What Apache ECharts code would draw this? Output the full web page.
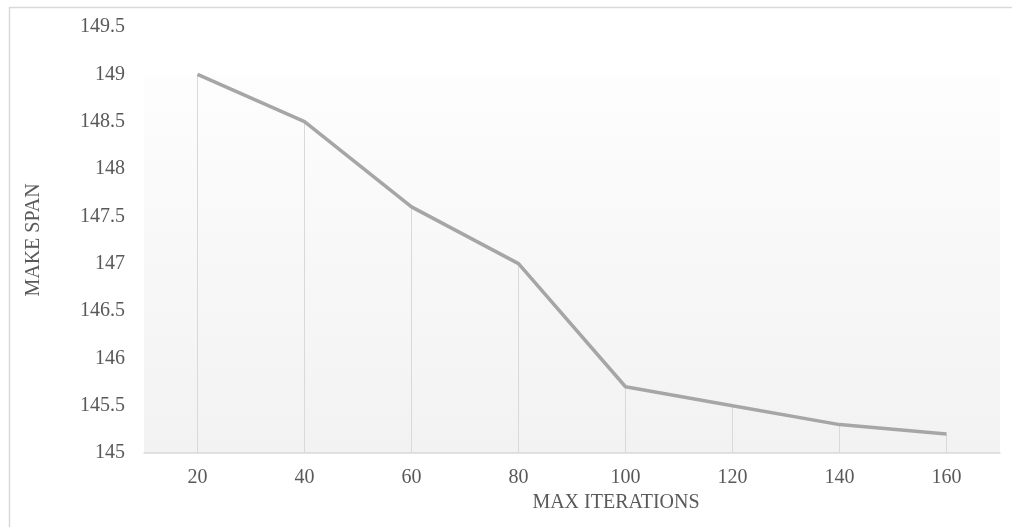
<!DOCTYPE html>
<html>
<head>
<meta charset="utf-8">
<script src="https://cdn.jsdelivr.net/npm/echarts@6/dist/echarts.min.js"></script>
<style>
html,body{margin:0;padding:0;background:#fff;}
#chart{width:1012px;height:527px;}
</style>
</head>
<body>
<div id="chart"></div>
<script>
const categories = ['20', '40', '60', '80', '100', '120', '140', '160'];
const makeSpan = [149.0, 148.5, 147.6, 147.0, 145.7, 145.5, 145.3, 145.2];
const yTicks = { min: 145, max: 149.5, step: 0.5 };
const xTitle = 'MAX ITERATIONS';
const yTitle = 'MAKE SPAN';

const font = 'Liberation Serif';
const labelColor = '#595959';

const chart = echarts.init(document.getElementById('chart'), null, { renderer: 'canvas' });
chart.setOption({
  animation: false,
  backgroundColor: '#ffffff',
  graphic: [{
    type: 'rect',
    left: 7, top: 5,
    shape: { width: 1020, height: 540 },
    style: { fill: 'none', stroke: '#d9d9d9', lineWidth: 1.5 },
    silent: true,
    z: -1
  }],
  grid: {
    left: 144, right: 12, top: 27, bottom: 74,
    show: true,
    borderWidth: 0,
    backgroundColor: new echarts.graphic.LinearGradient(0, 0, 0, 1, [
      { offset: 0, color: '#ffffff' },
      { offset: 0.11, color: '#ffffff' },
      { offset: 0.115, color: '#fdfdfd' },
      { offset: 1, color: '#f2f2f2' }
    ])
  },
  xAxis: {
    type: 'category',
    data: categories,
    boundaryGap: true,
    axisLine: { show: true, lineStyle: { color: '#d9d9d9', width: 1.5 } },
    axisTick: { show: false },
    splitLine: { show: false },
    axisLabel: { margin: 15, fontFamily: font, fontSize: 20, color: labelColor },
    name: xTitle,
    nameLocation: 'middle',
    nameGap: 36,
    nameTextStyle: { fontFamily: font, fontSize: 20, color: labelColor, padding: [0, 0, 0, 88] }
  },
  yAxis: {
    type: 'value',
    min: yTicks.min,
    max: yTicks.max,
    interval: yTicks.step,
    axisLine: { show: false },
    axisTick: { show: false },
    splitLine: { show: false },
    axisLabel: { margin: 19, fontFamily: font, fontSize: 20, color: labelColor },
    name: yTitle,
    nameLocation: 'middle',
    nameGap: 100,
    nameRotate: 90,
    nameTextStyle: { fontFamily: font, fontSize: 20, color: labelColor }
  },
  series: [
    {
      type: 'bar',
      data: makeSpan,
      barWidth: 1,
      itemStyle: { color: '#d9d9d9' },
      silent: true,
      z: 1
    },
    {
      type: 'line',
      data: makeSpan,
      symbol: 'none',
      lineStyle: { color: '#a6a6a6', width: 3.5 },
      z: 3
    }
  ]
});
</script>
</body>
</html>
